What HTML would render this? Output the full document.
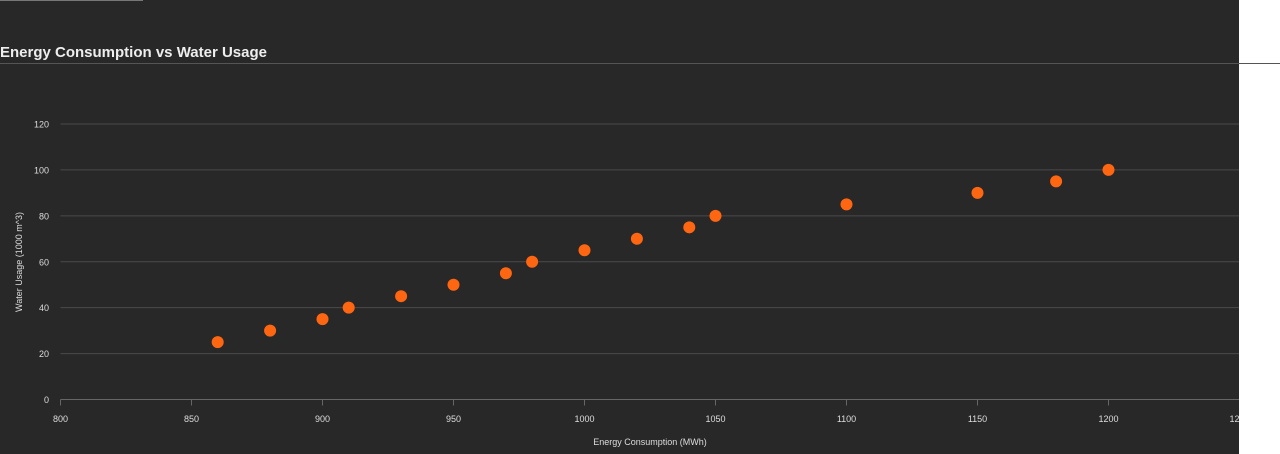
<!DOCTYPE html>
<html><head><meta charset="utf-8">
<style>
html,body{margin:0;padding:0;background:#fff;}
body{width:1280px;height:454px;position:relative;overflow:hidden;font-family:"Liberation Sans",sans-serif;}
#panel{position:absolute;left:0;top:0;width:1239px;height:454px;background:#282828;}
#topline{position:absolute;left:0;top:0;width:143px;height:1px;background:#777;}
#title{position:absolute;left:0;top:44px;color:#eee;font-size:15px;font-weight:bold;white-space:nowrap;}
#titleline{position:absolute;left:0;top:63px;width:1280px;height:1px;background:#555;}
svg{position:absolute;left:0;top:0;}
</style></head><body>
<div id="panel"></div>
<div id="topline"></div>
<div id="title">Energy Consumption vs Water Usage</div>
<div id="titleline"></div>
<svg id="chart" width="1239" height="454"></svg>
<script>
const energy = [860,880,900,910,930,950,970,980,1000,1020,1040,1050,1100,1150,1180,1200];
const water = [25,30,35,40,45,50,55,60,65,70,75,80,85,90,95,100];
const xTicks = [800,850,900,950,1000,1050,1100,1150,1200,1250];
const yTicks = [0,20,40,60,80,100,120];
const NS='http://www.w3.org/2000/svg';
const svg=document.getElementById('chart');
const x0=60.5,xPer=131/50,y0=399.5,yPer=275.5/120;
function xs(v){return x0+(v-800)*xPer;}
function ys(v){return y0-v*yPer;}
function mk(t,a){const e=document.createElementNS(NS,t);for(const k in a)e.setAttribute(k,a[k]);svg.appendChild(e);return e;}
yTicks.forEach(t=>{
  const l=mk('line',{x1:x0,x2:1239,y1:ys(t),y2:ys(t),stroke:t===0?'#666':'#4a4a4a','stroke-width':1});
  
  
  const tx=mk('text',{x:49,y:ys(t)+3.5,fill:'#ddd','font-size':9,'text-anchor':'end','font-family':'Liberation Sans, sans-serif'});
  tx.textContent=t;
  
  
});
xTicks.forEach(t=>{
  const l=mk('line',{x1:xs(t),x2:xs(t),y1:y0,y2:y0+6,stroke:'#666','stroke-width':1});
  
  
  const tx=mk('text',{x:xs(t),y:422,fill:'#ddd','font-size':9,'text-anchor':'middle','font-family':'Liberation Sans, sans-serif'});
  tx.textContent=t;
  
  
});
const xt=mk('text',{x:650,y:445,fill:'#ddd','font-size':9,'text-anchor':'middle','font-family':'Liberation Sans, sans-serif'});
xt.textContent='Energy Consumption (MWh)';


const yt=mk('text',{x:0,y:0,fill:'#ddd','font-size':9,'text-anchor':'middle','font-family':'Liberation Sans, sans-serif',transform:'translate(22,262) rotate(-90)'});
yt.textContent='Water Usage (1000 m^3)';


energy.forEach((e,i)=>{
  const c=mk('circle',{cx:xs(e),cy:ys(water[i]),r:6,fill:'#ff6611'});
  
  
});
</script>
</body></html>
